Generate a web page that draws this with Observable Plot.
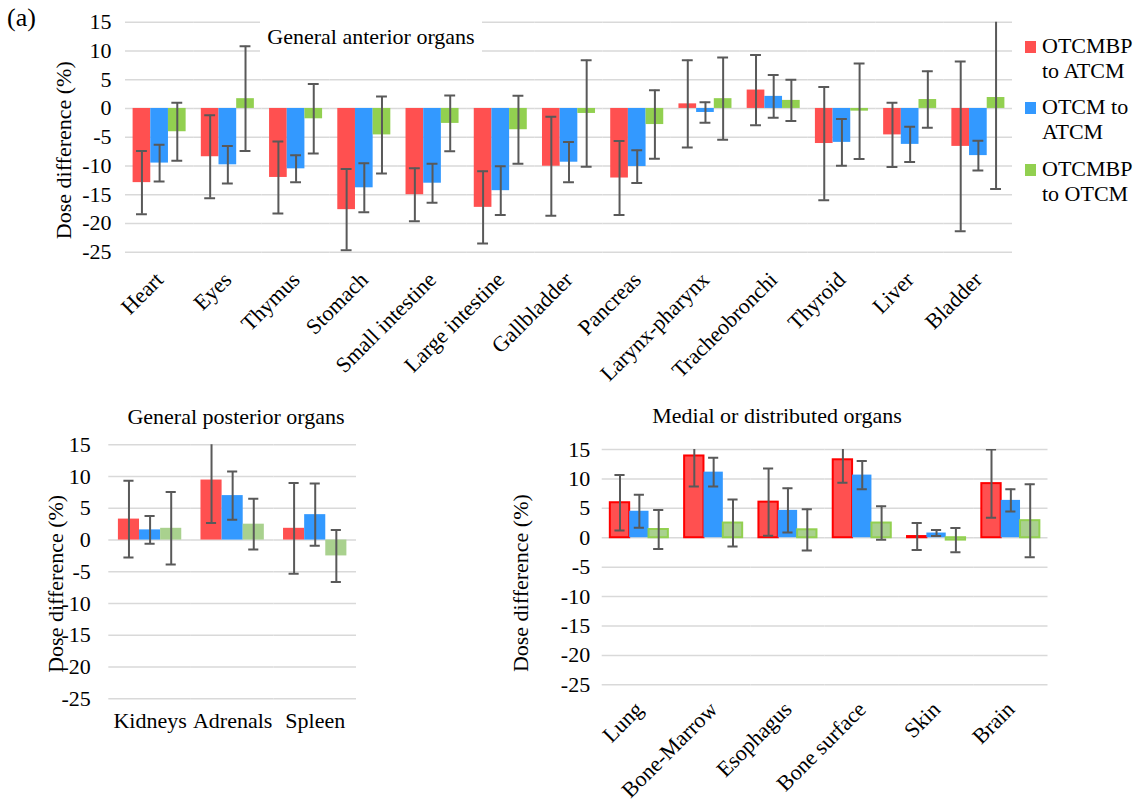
<!DOCTYPE html>
<html>
<head>
<meta charset="utf-8">
<script src="https://cdn.jsdelivr.net/npm/d3@7"></script>
<script src="https://cdn.jsdelivr.net/npm/@observablehq/plot@0.6"></script>
<style>
  body { margin: 0; background: #fff; }
  #root { position: relative; width: 1141px; height: 803px; font-family: "Liberation Serif", "Times New Roman", serif; color: #000; overflow: hidden; }
  .abs { position: absolute; }
  .title { font-size: 22px; text-align: center; white-space: nowrap; }
  .legend-item { position: absolute; left: 1025px; font-size: 22px; line-height: 25px; }
  .legend-item .sw { position: absolute; left: 0; width: 11px; height: 12px; }
  .legend-item .lbl { position: absolute; left: 17px; white-space: nowrap; }
</style>
</head>
<body>
<div id="root">
  <div id="anterior" class="abs" style="left:0;top:0"></div>
  <div id="posterior" class="abs" style="left:0;top:400px"></div>
  <div id="medial" class="abs" style="left:480px;top:398px"></div>
  <div class="abs" style="left:7px;top:3px;font-size:26px;line-height:30px">(a)</div>
  <div class="abs title" style="left:260px;top:16px;width:222px;height:42px;line-height:42px;background:#fff">General anterior organs</div>
  <div class="abs title" style="left:36px;top:402px;width:400px;line-height:30px">General posterior organs</div>
  <div class="abs title" style="left:577px;top:401px;width:400px;line-height:30px">Medial or distributed organs</div>
  <div id="legend"></div>
</div>
<script>
// Series compared in every panel
const seriesNames = ["OTCMBP to ATCM", "OTCM to ATCM", "OTCMBP to OTCM"];
const yTicks = [-25, -20, -15, -10, -5, 0, 5, 10, 15];

// General anterior organs: mean dose difference (%) and standard deviation
const anteriorOrgans = ["Heart", "Eyes", "Thymus", "Stomach", "Small intestine", "Large intestine", "Gallbladder", "Pancreas", "Larynx-pharynx", "Tracheobronchi", "Thyroid", "Liver", "Bladder"];
const anteriorOtcmbpAtcm   = [-12.9, -8.4, -12.0, -17.6, -15.0, -17.2, -10.05, -12.1, 0.8, 3.2, -6.1, -4.6, -6.6];
const anteriorOtcmbpAtcmSd = [5.5, 7.2, 6.25, 7.05, 4.6, 6.3, 8.6, 6.45, 7.6, 6.1, 9.85, 5.6, 14.75];
const anteriorOtcmAtcm     = [-9.5, -9.8, -10.5, -13.8, -13.0, -14.3, -9.35, -10.1, -0.7, 2.1, -5.9, -6.25, -8.2];
const anteriorOtcmAtcmSd   = [3.2, 3.25, 2.35, 4.25, 3.4, 4.25, 3.5, 2.85, 1.8, 3.7, 4.05, 3.05, 2.6];
const anteriorOtcmbpOtcm   = [-4.05, 1.7, -1.8, -4.6, -2.6, -3.7, -0.87, -2.8, 1.7, 1.4, -0.47, 1.55, 1.9];
const anteriorOtcmbpOtcmSd = [5.05, 9.1, 6.05, 6.7, 4.85, 5.9, 9.25, 5.95, 7.15, 3.6, 8.3, 4.9, 15.9];

// General posterior organs
const posteriorOrgans = ["Kidneys", "Adrenals", "Spleen"];
const posteriorOtcmbpAtcm   = [3.3, 9.45, 1.85];
const posteriorOtcmbpAtcmSd = [6.05, 6.75, 7.15];
const posteriorOtcmAtcm     = [1.6, 7.0, 4.0];
const posteriorOtcmAtcmSd   = [2.2, 3.8, 4.9];
const posteriorOtcmbpOtcm   = [1.85, 2.5, -2.5];
const posteriorOtcmbpOtcmSd = [5.7, 4.0, 4.1];

// Medial or distributed organs
const medialOrgans = ["Lung", "Bone-Marrow", "Esophagus", "Bone surface", "Skin", "Brain"];
const medialOtcmbpAtcm   = [5.95, 13.9, 6.05, 13.25, 0.2, 9.2];
const medialOtcmbpAtcmSd = [4.7, 5.2, 5.7, 3.9, 2.3, 5.8];
const medialOtcmAtcm     = [4.5, 11.15, 4.65, 10.65, 0.8, 6.35];
const medialOtcmAtcmSd   = [2.8, 2.45, 3.75, 2.4, 0.5, 1.9];
const medialOtcmbpOtcm   = [1.4, 2.5, 1.35, 2.5, -0.4, 2.9];
const medialOtcmbpOtcmSd = [3.3, 4.0, 3.5, 2.85, 2.05, 6.2];

const RED = "#ff5050", BLUE = "#3399ff", GREEN = "#92d050", PALE_GREEN = "#a9d18e";
const GRID = "#d9d9d9", ERR = "#595959";
const FONT = "'Liberation Serif', 'Times New Roman', serif";

function toRows(organs, means, sds) {
  return organs.flatMap((organ, i) =>
    seriesNames.map((series, j) => ({organ, series, value: means[j][i], sd: sds[j][i]})));
}

function panel(o) {
  const {data, organs, fills, strokes} = o;
  const marks = [
    Plot.ruleY(yTicks, {stroke: GRID, strokeWidth: 1.5}),
    ...seriesNames.map((s, j) => Plot.barY(data.filter(d => d.series === s), {
      fx: "organ", x: "series", y: "value",
      fill: fills[j], stroke: strokes[j] || "none", strokeWidth: 2
    })),
    Plot.ruleX(data, {fx: "organ", x: "series", y1: d => d.value - d.sd, y2: d => d.value + d.sd,
      stroke: ERR, strokeWidth: 2, clip: true}),
    Plot.tickY(data, {fx: "organ", x: "series", y: d => d.value + d.sd,
      stroke: ERR, strokeWidth: 2, insetLeft: o.capInset, insetRight: o.capInset, clip: true}),
    Plot.tickY(data, {fx: "organ", x: "series", y: d => d.value - d.sd,
      stroke: ERR, strokeWidth: 2, insetLeft: o.capInset, insetRight: o.capInset, clip: true}),
    Plot.text([organs[0]], {fx: d => d, frameAnchor: "left", text: () => "Dose difference (%)",
      textAnchor: "middle", lineAnchor: "middle", rotate: -90,
      dx: o.labelDx, dy: o.labelDy, fontSize: 22, fontFamily: FONT})
  ];
  return Plot.plot({
    width: o.width, height: o.height,
    marginLeft: o.margins[0], marginRight: o.margins[1], marginTop: o.margins[2], marginBottom: o.margins[3],
    style: {fontFamily: FONT, fontSize: "22px", color: "#000", background: "transparent", overflow: "visible"},
    fx: {domain: organs, padding: 0, round: false, axis: "bottom", label: null,
      tickSize: 0, tickPadding: o.tickPadding, tickRotate: o.tickRotate},
    x: {domain: seriesNames, paddingInner: 0, paddingOuter: o.xOuter, round: false, axis: null},
    y: {domain: [-25, 15], ticks: yTicks, tickFormat: d => `${d}`, tickSize: 0,
      tickPadding: o.yTickPadding, label: null},
    marks
  });
}

document.getElementById("anterior").append(panel({
  data: toRows(anteriorOrgans,
    [anteriorOtcmbpAtcm, anteriorOtcmAtcm, anteriorOtcmbpOtcm],
    [anteriorOtcmbpAtcmSd, anteriorOtcmAtcmSd, anteriorOtcmbpOtcmSd]),
  organs: anteriorOrgans, fills: [RED, BLUE, GREEN], strokes: [],
  width: 1141, height: 392, margins: [125, 129, 21.7, 140.3],
  xOuter: 0.43, capInset: 3.4, tickRotate: -45, tickPadding: 24, yTickPadding: 14,
  labelDx: -62, labelDy: 13
}));

document.getElementById("posterior").append(panel({
  data: toRows(posteriorOrgans,
    [posteriorOtcmbpAtcm, posteriorOtcmAtcm, posteriorOtcmbpOtcm],
    [posteriorOtcmbpAtcmSd, posteriorOtcmAtcmSd, posteriorOtcmbpOtcmSd]),
  organs: posteriorOrgans, fills: [RED, BLUE, PALE_GREEN], strokes: [],
  width: 470, height: 358, margins: [108.3, 114, 44.3, 59.7],
  xOuter: 0.455, capInset: 5.5, tickRotate: 0, tickPadding: 14, yTickPadding: 18,
  labelDx: -53, labelDy: 12
}));

// Medial panel sits 2px higher so its longest rotated label stays inside the page
document.getElementById("medial").append(panel({
  data: toRows(medialOrgans,
    [medialOtcmbpAtcm, medialOtcmAtcm, medialOtcmbpOtcm],
    [medialOtcmbpAtcmSd, medialOtcmAtcmSd, medialOtcmbpOtcmSd]),
  organs: medialOrgans, fills: [RED, BLUE, PALE_GREEN], strokes: ["#ff0000", null, GREEN],
  width: 661, height: 405, margins: [121.7, 93.5, 51, 118.7],
  xOuter: 0.42, capInset: 4.6, tickRotate: -45, tickPadding: 21, yTickPadding: 12,
  labelDx: -81, labelDy: 16
}));

// Legend
const legendLines = [["OTCMBP", "to ATCM"], ["OTCM to", "ATCM"], ["OTCMBP", "to OTCM"]];
const legendColors = [RED, BLUE, GREEN];
const legendTops = [33, 94, 156];
const legend = document.getElementById("legend");
seriesNames.forEach((s, i) => {
  const item = document.createElement("div");
  item.className = "legend-item";
  item.style.top = legendTops[i] + "px";
  item.title = s;
  const sw = document.createElement("div");
  sw.className = "sw";
  sw.style.background = legendColors[i];
  sw.style.top = "8px";
  const lbl = document.createElement("div");
  lbl.className = "lbl";
  lbl.innerHTML = legendLines[i].join("<br>");
  item.append(sw, lbl);
  legend.append(item);
});
</script>
</body>
</html>
